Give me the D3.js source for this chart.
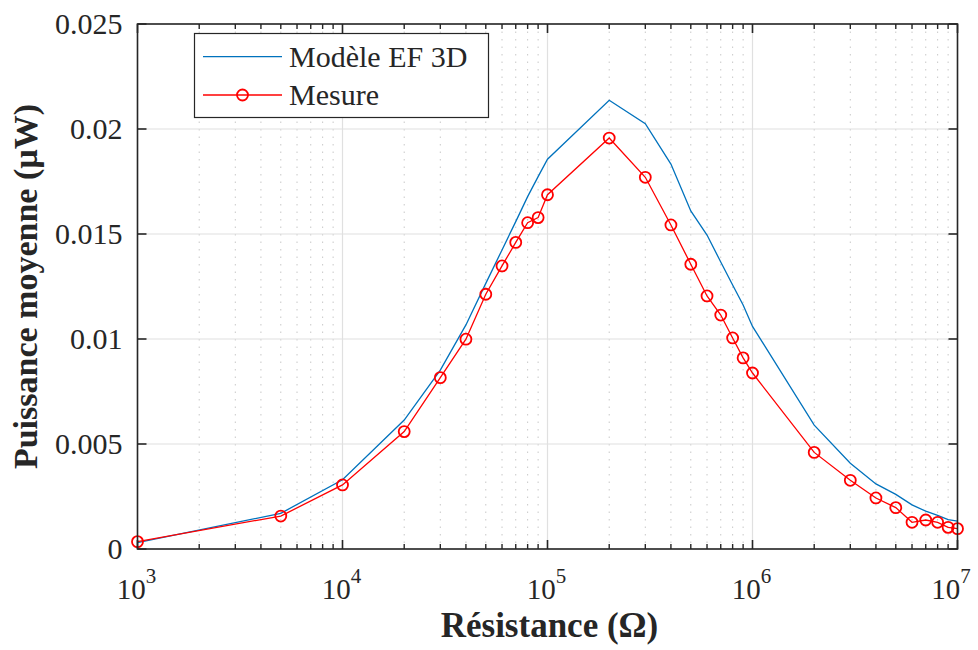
<!DOCTYPE html>
<html>
<head>
  <meta charset="utf-8">
  <script src="https://d3js.org/d3.v7.min.js"></script>
  <style>
    body { margin: 0; background: #fff; }
    svg text { font-family: "Liberation Serif", "Times New Roman", serif; fill: #262626; }
  </style>
</head>
<body>
<script>
  "use strict";

  // Modele EF 3D (resistance in ohm, power in uW)
  var modelR = [1e3, 5e3, 1e4, 2e4, 3e4, 4e4, 5e4, 6e4, 7e4, 8e4, 9e4, 1e5,
                2e5, 3e5, 4e5, 5e5, 6e5, 7e5, 8e5, 9e5, 1e6,
                2e6, 3e6, 4e6, 5e6, 6e6, 7e6, 8e6, 9e6, 1e7];
  var modelP = [0.0003, 0.0017, 0.0033, 0.00614, 0.00852, 0.01067, 0.01265, 0.01424, 0.01559, 0.01678, 0.01773, 0.01856,
                0.02137, 0.02025, 0.01833, 0.0161, 0.01495, 0.01367, 0.01257, 0.01162, 0.0106,
                0.0059, 0.00408, 0.0031, 0.0026, 0.0021, 0.0018, 0.0016, 0.0014, 0.00133];

  // Mesure
  var mesR = [1e3, 5e3, 1e4, 2e4, 3e4, 4e4, 5e4, 6e4, 7e4, 8e4, 9e4, 1e5,
              2e5, 3e5, 4e5, 5e5, 6e5, 7e5, 8e5, 9e5, 1e6,
              2e6, 3e6, 4e6, 5e6, 6e6, 7e6, 8e6, 9e6, 1e7];
  var mesP = [0.00035, 0.00157, 0.00305, 0.00559, 0.00816, 0.00999, 0.01213, 0.01348, 0.0146, 0.01554, 0.01578, 0.01687,
              0.01957, 0.0177, 0.01543, 0.01356, 0.01205, 0.01114, 0.01005, 0.0091, 0.00838,
              0.0046, 0.00327, 0.00243, 0.00197, 0.00127, 0.00138, 0.00127, 0.00103, 0.00097];

  var yTicks = [0, 0.005, 0.01, 0.015, 0.02, 0.025];
  var yTickLabels = ["0", "0.005", "0.01", "0.015", "0.02", "0.025"];
  var xExponents = [3, 4, 5, 6, 7];
  var legendLabels = ["Modèle EF 3D", "Mesure"];

  var W = 978, H = 650;
  var pLeft = 137.5, pRight = 957.5, pTop = 24, pBottom = 549;
  var axisColor = "#262626";

  var svg = d3.select("body").append("svg")
      .attr("width", W).attr("height", H);

  var x = d3.scaleLog().domain([1e3, 1e7]).range([pLeft, pRight]);
  var y = d3.scaleLinear().domain([0, 0.025]).range([pBottom, pTop]);

  // minor x positions (2..9 in each decade)
  var minor = [];
  xExponents.slice(0, -1).forEach(function (e) {
    for (var k = 2; k <= 9; k++) minor.push(k * Math.pow(10, e));
  });
  var majors = xExponents.map(function (e) { return Math.pow(10, e); });

  // grid
  var grid = svg.append("g");
  grid.selectAll("line.minor").data(minor).enter().append("line")
      .attr("x1", function (d) { return x(d); }).attr("x2", function (d) { return x(d); })
      .attr("y1", pTop).attr("y2", pBottom)
      .attr("stroke", "#c8c8c8").attr("stroke-width", 1)
      .attr("stroke-dasharray", "1.5,6");
  grid.selectAll("line.mx").data(majors).enter().append("line")
      .attr("x1", function (d) { return x(d); }).attr("x2", function (d) { return x(d); })
      .attr("y1", pTop).attr("y2", pBottom)
      .attr("stroke", "#e0e0e0").attr("stroke-width", 1.2);
  grid.selectAll("line.my").data(yTicks).enter().append("line")
      .attr("x1", pLeft).attr("x2", pRight)
      .attr("y1", function (d) { return y(d); }).attr("y2", function (d) { return y(d); })
      .attr("stroke", "#e0e0e0").attr("stroke-width", 1.2);

  // lines
  var line = d3.line()
      .x(function (d) { return x(d[0]); })
      .y(function (d) { return y(d[1]); });

  var modelData = d3.zip(modelR, modelP);
  var mesData = d3.zip(mesR, mesP);

  svg.append("path").datum(modelData)
      .attr("d", line).attr("fill", "none")
      .attr("stroke", "#0072bd").attr("stroke-width", 1.3);

  svg.append("path").datum(mesData)
      .attr("d", line).attr("fill", "none")
      .attr("stroke", "#ff0000").attr("stroke-width", 1.3);

  svg.selectAll("circle.mes").data(mesData).enter().append("circle")
      .attr("cx", function (d) { return x(d[0]); })
      .attr("cy", function (d) { return y(d[1]); })
      .attr("r", 5.5)
      .attr("fill", "none").attr("stroke", "#ff0000").attr("stroke-width", 1.8);

  // axes box and ticks
  var ax = svg.append("g").attr("stroke", axisColor);
  ax.append("rect").attr("x", pLeft).attr("y", pTop)
      .attr("width", pRight - pLeft).attr("height", pBottom - pTop)
      .attr("fill", "none").attr("stroke-width", 1.6);

  // x ticks, bottom and top, pointing inward
  [pBottom, pTop].forEach(function (yy) {
    var dir = yy === pBottom ? -1 : 1;
    ax.selectAll(null).data(majors).enter().append("line")
        .attr("x1", function (d) { return x(d); }).attr("x2", function (d) { return x(d); })
        .attr("y1", yy).attr("y2", yy + dir * 9).attr("stroke-width", 1.6);
    ax.selectAll(null).data(minor).enter().append("line")
        .attr("x1", function (d) { return x(d); }).attr("x2", function (d) { return x(d); })
        .attr("y1", yy).attr("y2", yy + dir * 5).attr("stroke-width", 1.4);
  });
  // y ticks, left and right
  [pLeft, pRight].forEach(function (xx) {
    var dir = xx === pLeft ? 1 : -1;
    ax.selectAll(null).data(yTicks).enter().append("line")
        .attr("x1", xx).attr("x2", xx + dir * 9)
        .attr("y1", function (d) { return y(d); }).attr("y2", function (d) { return y(d); })
        .attr("stroke-width", 1.6);
  });

  // y tick labels
  svg.selectAll("text.yt").data(yTicks).enter().append("text")
      .attr("x", pLeft - 15)
      .attr("y", function (d) { return y(d) + 10; })
      .attr("text-anchor", "end")
      .style("font-size", "30px")
      .text(function (d, i) { return yTickLabels[i]; });

  // x tick labels 10^n (last one kept inside the figure)
  var xt = svg.selectAll("text.xt").data(xExponents).enter().append("text")
      .attr("x", function (d) { return Math.min(x(Math.pow(10, d)) - 1, 951); })
      .attr("y", 599)
      .attr("text-anchor", "middle")
      .style("font-size", "29px");
  xt.append("tspan").text("10");
  xt.append("tspan").attr("dy", -16).style("font-size", "21px")
      .text(function (d) { return d; });

  // axis labels
  svg.append("text")
      .attr("x", (pLeft + pRight) / 2 + 2).attr("y", 637)
      .attr("text-anchor", "middle")
      .style("font-size", "35px").style("font-weight", "bold")
      .text("Résistance (Ω)");

  svg.append("text")
      .attr("transform", "translate(37," + ((pTop + pBottom) / 2) + ") rotate(-90)")
      .attr("text-anchor", "middle")
      .style("font-size", "34px").style("font-weight", "bold")
      .text("Puissance moyenne (µW)");

  // legend
  var lg = svg.append("g");
  lg.append("rect").attr("x", 194.5).attr("y", 33.5)
      .attr("width", 294).attr("height", 84)
      .attr("fill", "#fff").attr("stroke", axisColor).attr("stroke-width", 1.2);
  var colors = ["#0072bd", "#ff0000"];
  legendLabels.forEach(function (lab, i) {
    var yy = 56.7 + i * 38.3;
    lg.append("line").attr("x1", 203).attr("x2", 282)
        .attr("y1", yy).attr("y2", yy)
        .attr("stroke", colors[i]).attr("stroke-width", 1.3);
    if (i === 1) {
      lg.append("circle").attr("cx", 242.5).attr("cy", yy).attr("r", 5.5)
          .attr("fill", "none").attr("stroke", colors[i]).attr("stroke-width", 1.8);
    }
    lg.append("text").attr("x", 289).attr("y", yy + 10)
        .style("font-size", "30px").text(lab);
  });
</script>
</body>
</html>
